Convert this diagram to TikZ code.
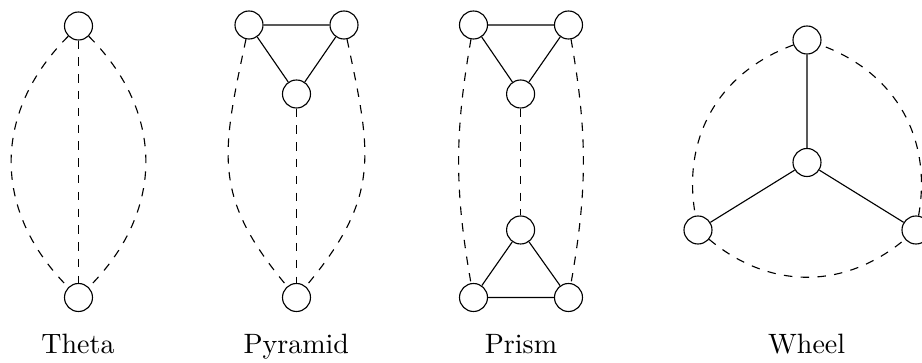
\documentclass[tikz,border=0pt]{standalone}
\usepackage{fontspec}
\setmainfont{lmroman10-regular.otf}
\begin{document}
\begin{tikzpicture}[x=1pt,y=1pt,
  vtx/.style={circle,draw,line width=1.12pt,minimum size=28pt,inner sep=0pt,fill=white},
  solidedge/.style={line width=1.12pt},
  dashedge/.style={line width=1.12pt,dash pattern=on 8.4pt off 8.4pt},
  lbl/.style={anchor=base,inner sep=0pt,font=\fontsize{28}{34}\selectfont}]
\useasboundingbox (0,0) rectangle (922,363);
% Theta
\node[vtx] (t1) at (78.5,337) {};
\node[vtx] (t2) at (78.5,65.5) {};
\draw[dashedge] (t1) -- (t2);
\draw[dashedge] (t1) to[out=-135,in=135,looseness=1.1] (t2);
\draw[dashedge] (t1) to[out=-45,in=45,looseness=1.1] (t2);
\node[lbl] (lt) at (78,9) {Theta};
% Pyramid
\node[vtx] (pa) at (249,338) {};
\node[vtx] (pc) at (344,338) {};
\node[vtx] (pm) at (296.5,269) {};
\node[vtx] (pb) at (296.5,65.5) {};
\draw[solidedge] (pa) -- (pc) (pa) -- (pm) (pc) -- (pm);
\draw[dashedge] (pm) -- (pb);
\draw[dashedge] (pa) to[out=-102,in=130,looseness=1.2] (pb);
\draw[dashedge] (pc) to[out=-78,in=50,looseness=1.2] (pb);
\node[lbl] (lp) at (296.3,9) {Pyramid};
% Prism
\node[vtx] (ra) at (473.5,338) {};
\node[vtx] (rc) at (568.5,338) {};
\node[vtx] (rm) at (520.6,269) {};
\node[vtx] (sm) at (520.6,133) {};
\node[vtx] (sa) at (473.5,65.5) {};
\node[vtx] (sc) at (568.5,65.5) {};
\draw[solidedge] (ra) -- (rc) (ra) -- (rm) (rc) -- (rm);
\draw[solidedge] (sa) -- (sc) (sa) -- (sm) (sc) -- (sm);
\draw[dashedge] (rm) -- (sm);
\draw[dashedge] (ra) to[out=-100,in=100] (sa);
\draw[dashedge] (rc) to[out=-80,in=80] (sc);
\node[lbl] (lr) at (521,9) {Prism};
% Wheel
\node[vtx] (wt) at (807,323) {};
\node[vtx] (wc) at (807,200.5) {};
\node[vtx] (wl) at (698,133) {};
\node[vtx] (wr) at (916,133) {};
\draw[solidedge] (wc) -- (wt) (wc) -- (wl) (wc) -- (wr);
\draw[dashedge] (wt) to[bend right=40,looseness=1.03] (wl);
\draw[dashedge] (wl) to[bend right=40,looseness=1.03] (wr);
\draw[dashedge] (wr) to[bend right=40,looseness=1.03] (wt);
\node[lbl] (lw) at (806.7,9) {Wheel};
\end{tikzpicture}
\end{document}
